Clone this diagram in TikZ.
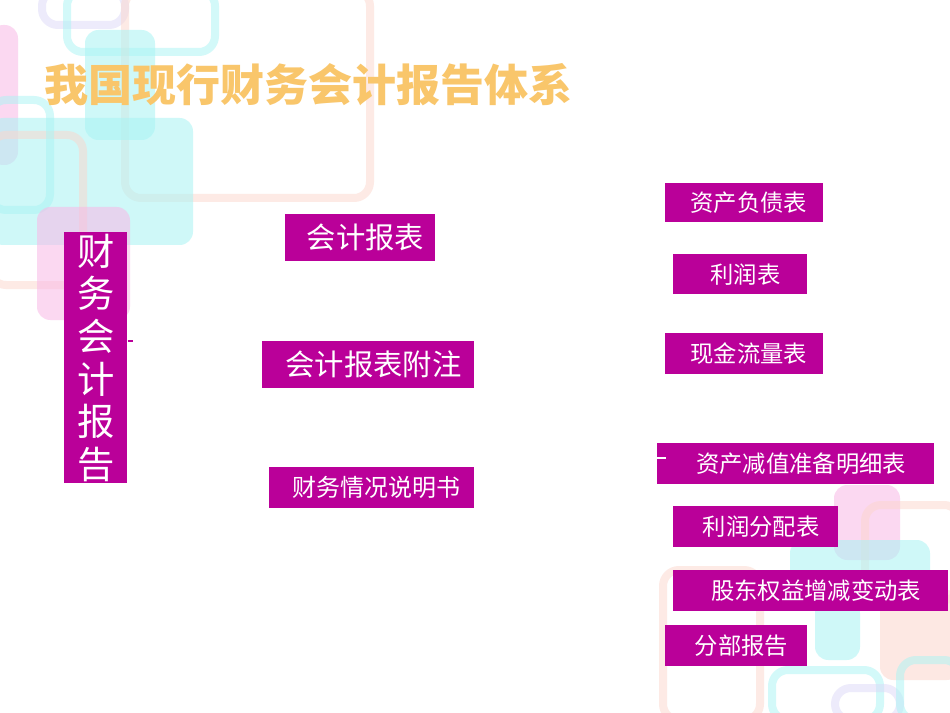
\documentclass[tikz,border=0pt]{standalone}
\usepackage{fontspec}
\newfontfamily\cjk{Noto Sans CJK SC}
\definecolor{mag}{HTML}{BA0099}
\definecolor{ttl}{HTML}{F9C66B}
\definecolor{cy}{HTML}{A8F4F4}
\definecolor{pk}{HTML}{F9B8E6}
\definecolor{pe}{HTML}{FCD6CC}
\definecolor{lv}{HTML}{DCD8F8}
\begin{document}
\begin{tikzpicture}[x=0.75pt,y=-0.75pt,
 box/.style={fill=mag,text=white,inner sep=0pt,anchor=north west,font=\cjk},
 fdeco/.style={fill=#1,opacity=0.55,rounded corners=10pt},
 odeco/.style={draw=#1,line width=6pt,opacity=0.5,rounded corners=12pt}]
\useasboundingbox (0,0) rectangle (950,713);
\fill[white] (0,0) rectangle (950,713);
% background decorations top-left
\draw[odeco=lv] (42,-10) rectangle (125,25);
\draw[odeco=cy] (67,-10) rectangle (215,52);
\draw[odeco=pe] (125,-10) rectangle (370,198);
\fill[fdeco=pk] (-10,25) rectangle (18,165);
\fill[fdeco=cy] (85,30) rectangle (155,140);
\fill[fdeco=cy] (-10,118) rectangle (193,245);
\draw[odeco=pe] (-10,135) rectangle (83,285);
\draw[odeco=cy] (-10,100) rectangle (50,210);
\fill[fdeco=pk] (37,207) rectangle (130,320);
% bottom-right decorations
\fill[fdeco=pk] (834,485) rectangle (900,560);
\draw[odeco=pe] (865,505) rectangle (960,600);
\fill[fdeco=cy] (790,540) rectangle (930,600);
\draw[odeco=pe] (663,570) rectangle (760,720);
\fill[fdeco=cy] (815,600) rectangle (860,660);
\draw[odeco=cy] (772,670) rectangle (880,720);
\draw[odeco=lv] (835,688) rectangle (900,720);
\fill[fdeco=pe] (880,590) rectangle (960,680);
\draw[odeco=cy] (900,660) rectangle (960,720);
% title
\node[text=ttl,font=\cjk\bfseries\fontsize{33}{36}\selectfont,anchor=west] (title) at (40,85) {我国现行财务会计报告体系};
% boxes
\node[box,minimum width=47.25pt,minimum height=188.25pt] (root) at (64,232) {};
\node[text=white,font=\cjk\fontsize{28}{32}\selectfont,align=center] (roott) at (root.center) {财\\务\\会\\计\\报\\告};
\draw[mag,line width=0.8pt] (root.east|-0,341) -- ++(5,0);
\node[box,minimum width=112.5pt,minimum height=35.25pt,font=\cjk\fontsize{22}{26}\selectfont] (a) at (285,214) {\hspace{8pt}会计报表\hfill};
\node[box,minimum width=159pt,minimum height=35.25pt,font=\cjk\fontsize{22}{26}\selectfont] (b) at (262,341) {\hspace{8pt}会计报表附注\hfill};
\node[box,minimum width=153.75pt,minimum height=30.75pt,font=\cjk\fontsize{18}{22}\selectfont] (c) at (269,467) {\hspace{7pt}财务情况说明书\hfill};
\node[box,minimum width=118.5pt,minimum height=29.25pt,font=\cjk\fontsize{17.5}{21}\selectfont] (d1) at (665,183) {\hspace{7pt}资产负债表\hfill};
\node[box,minimum width=100.5pt,minimum height=30pt,font=\cjk\fontsize{17.5}{21}\selectfont] (d2) at (673,254) {\hspace{8pt}利润表\hfill};
\node[box,minimum width=118.5pt,minimum height=30.75pt,font=\cjk\fontsize{17.5}{21}\selectfont] (d3) at (665,333) {\hspace{7pt}现金流量表\hfill};
\node[box,minimum width=207.75pt,minimum height=30.75pt,font=\cjk\fontsize{17.5}{21}\selectfont] (d4) at (657,443) {\hspace{8pt}资产减值准备明细表\hfill};
\draw[white,line width=0.8pt] (d4.west|-0,458) -- ++(9,0);
\node[box,minimum width=123.75pt,minimum height=30.75pt,font=\cjk\fontsize{17.5}{21}\selectfont] (d5) at (673,506) {\hspace{8pt}利润分配表\hfill};
\node[box,minimum width=206.25pt,minimum height=30.75pt,font=\cjk\fontsize{17.5}{21}\selectfont] (d6) at (673,570) {\hspace{8pt}股东权益增减变动表\hfill};
\node[box,minimum width=106.5pt,minimum height=30.75pt,font=\cjk\fontsize{17.5}{21}\selectfont] (d7) at (665,625) {\hspace{8pt}分部报告\hfill};
\end{tikzpicture}
\end{document}
